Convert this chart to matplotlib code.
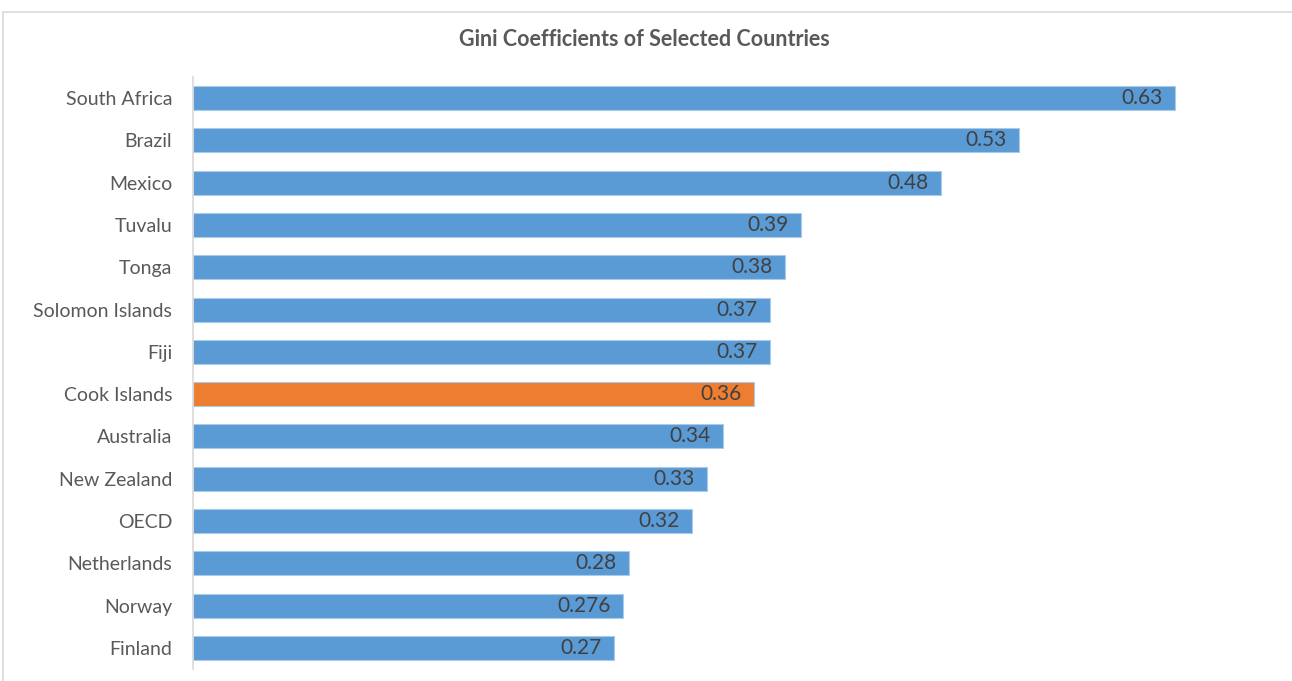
import matplotlib
matplotlib.use("Agg")
import matplotlib.pyplot as plt
from matplotlib.patches import Rectangle

countries = ["South Africa", "Brazil", "Mexico", "Tuvalu", "Tonga", "Solomon Islands",
             "Fiji", "Cook Islands", "Australia", "New Zealand", "OECD", "Netherlands",
             "Norway", "Finland"]
gini = [0.63, 0.53, 0.48, 0.39, 0.38, 0.37, 0.37, 0.36, 0.34, 0.33, 0.32, 0.28, 0.276, 0.27]
value_labels = ["0.63", "0.53", "0.48", "0.39", "0.38", "0.37", "0.37", "0.36", "0.34",
                "0.33", "0.32", "0.28", "0.276", "0.27"]
highlight = "Cook Islands"

BLUE = "#5B9BD5"
ORANGE = "#ED7D31"
plt.rcParams['font.family'] = ['Lato', 'DejaVu Sans']

fig = plt.figure(figsize=(12.92, 6.81), dpi=100)
ax = fig.add_axes([193/1292, 12/681, (1284-193)/1292, 592/681])

ypos = list(range(len(countries)))
colors = [ORANGE if c == highlight else BLUE for c in countries]
bars = ax.barh(ypos, gini, height=0.57, color=colors, edgecolor="#A9CBEA", linewidth=0.8)
ax.set_ylim(len(countries) - 0.5, -0.5)
ax.set_xlim(0, 0.7)

for b, lab in zip(bars, value_labels):
    ax.annotate(lab, xy=(b.get_width(), b.get_y() + b.get_height()/2), xytext=(-9, 0),
                textcoords="offset points", ha="right", va="center",
                fontsize=15, color="#404040")

ax.set_yticks(ypos)
ax.set_yticklabels(countries, fontsize=14, color="#595959")
ax.tick_params(axis="y", length=0, pad=15)
ax.set_xticks([])
for s in ["top", "right", "bottom"]:
    ax.spines[s].set_visible(False)
ax.spines["left"].set_color("#D9D9D9")
ax.spines["left"].set_linewidth(1.2)

fig.text(644/1292, 1 - 40/681, "Gini Coefficients of Selected Countries", ha="center",
         va="center", fontsize=15.5, fontweight="bold", color="#595959")

# outer chart frame
fig.add_artist(Rectangle((3/1292, -0.05), 1.2, (681-12)/681 + 0.05, transform=fig.transFigure,
                         fill=False, edgecolor="#D9D9D9", linewidth=1.2))

fig.savefig("out.png", dpi=100)
